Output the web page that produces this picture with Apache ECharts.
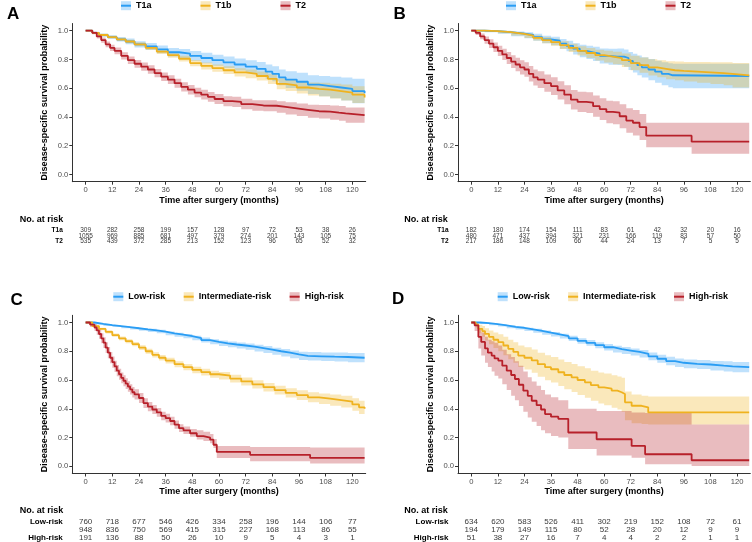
<!DOCTYPE html>
<html><head><meta charset="utf-8">
<script src="https://cdn.jsdelivr.net/npm/echarts@6/dist/echarts.min.js"></script>
<style>html,body{margin:0;padding:0;background:#fff}#c{width:752px;height:542px}</style>
</head><body><div id="c"></div>
<script>
// ---------- data ----------
const X_TICKS = [0,12,24,36,48,60,72,84,96,108,120];
const Y_TICKS = [0,0.2,0.4,0.6,0.8,1.0];
const GROUPS_T = ['T1a','T1b','T2'];
const GROUPS_R = ['Low-risk','Intermediate-risk','High-risk'];

const RISK_A_T1a = [309,282,258,199,157,128,97,72,53,38,26];
const RISK_A_T1b = [1055,969,885,681,497,379,274,201,143,105,75];
const RISK_A_T2  = [535,439,372,285,213,152,123,96,65,52,32];
const RISK_B_T1a = [182,180,174,154,111,83,61,42,32,20,16];
const RISK_B_T1b = [480,471,437,394,321,231,166,119,83,57,50];
const RISK_B_T2  = [217,186,148,109,66,44,24,13,7,5,5];
const RISK_C_Low = [760,718,677,546,426,334,258,196,144,106,77];
const RISK_C_Int = [948,836,750,569,415,315,227,168,113,86,55];
const RISK_C_High= [191,136,88,50,26,10,9,5,4,3,1];
const RISK_D_Low = [634,620,583,526,411,302,219,152,108,72,61];
const RISK_D_Int = [194,179,149,115,80,52,28,20,12,9,9];
const RISK_D_High= [51,38,27,16,7,4,4,2,2,1,1];

// Panel A
const A_T1a_t  = [0,3,6,10,14,18,22,27,32,37,42,47,52,57,62,67,72,77,81,84,87,90,95,100,105,110,115,120,125.5];
const A_T1a_s  = [1,0.985,0.97,0.955,0.94,0.925,0.905,0.89,0.87,0.85,0.84,0.825,0.81,0.795,0.78,0.765,0.75,0.735,0.715,0.70,0.675,0.66,0.645,0.625,0.615,0.605,0.595,0.58,0.565];
const A_T1a_lo = [1,0.978,0.958,0.942,0.924,0.905,0.883,0.865,0.843,0.82,0.808,0.791,0.774,0.757,0.74,0.723,0.706,0.688,0.665,0.648,0.62,0.602,0.583,0.559,0.545,0.53,0.515,0.495,0.475];
const A_T1a_hi = [1,0.992,0.98,0.968,0.956,0.945,0.927,0.915,0.897,0.88,0.872,0.859,0.846,0.833,0.82,0.807,0.794,0.782,0.765,0.752,0.73,0.718,0.707,0.691,0.685,0.68,0.675,0.665,0.655];
const A_T1b_t  = [0,3,6,10,14,18,22,27,32,37,42,47,52,57,62,67,72,77,82,86,90,95,100,105,110,115,120,125.5];
const A_T1b_s  = [1,0.985,0.97,0.955,0.94,0.925,0.905,0.88,0.855,0.83,0.805,0.775,0.755,0.74,0.725,0.71,0.70,0.685,0.665,0.63,0.62,0.605,0.595,0.59,0.58,0.57,0.555,0.535];
const A_T1b_lo = [1,0.979,0.962,0.946,0.929,0.913,0.891,0.865,0.838,0.812,0.785,0.753,0.731,0.715,0.698,0.682,0.67,0.653,0.63,0.593,0.581,0.563,0.55,0.542,0.529,0.515,0.497,0.472];
const A_T1b_hi = [1,0.991,0.978,0.964,0.951,0.937,0.919,0.895,0.872,0.848,0.825,0.797,0.779,0.765,0.752,0.738,0.73,0.717,0.7,0.667,0.659,0.647,0.64,0.638,0.631,0.625,0.613,0.598];
const A_T2_t   = [0,3,5,7,9,11,13,16,19,22,25,28,31,34,37,40,43,46,49,52,55,58,62,66,70,75,80,86,90,95,100,105,110,114,117,125.5];
const A_T2_s   = [1,0.985,0.96,0.935,0.905,0.88,0.86,0.825,0.795,0.77,0.75,0.73,0.705,0.68,0.66,0.635,0.61,0.59,0.57,0.555,0.54,0.525,0.51,0.505,0.49,0.48,0.478,0.47,0.46,0.45,0.44,0.437,0.43,0.425,0.413,0.413];
const A_T2_lo  = [1,0.975,0.945,0.917,0.885,0.858,0.837,0.8,0.769,0.743,0.722,0.701,0.676,0.65,0.629,0.604,0.578,0.557,0.537,0.521,0.506,0.49,0.475,0.469,0.453,0.443,0.44,0.43,0.418,0.407,0.395,0.39,0.38,0.373,0.36,0.358];
const A_T2_hi  = [1,0.995,0.975,0.953,0.925,0.902,0.883,0.85,0.821,0.797,0.778,0.759,0.734,0.71,0.691,0.666,0.642,0.623,0.603,0.589,0.574,0.56,0.545,0.541,0.527,0.517,0.516,0.51,0.502,0.493,0.485,0.484,0.48,0.477,0.466,0.468];

// Panel B
const B_T1a_t  = [0,6,12,18,24,28,32,36,40,43,46,49,52,55,58,62,66,69,71,73,75,77,80,83,86,89,91,125.5];
const B_T1a_s  = [1,0.997,0.99,0.98,0.97,0.955,0.94,0.93,0.91,0.895,0.875,0.86,0.85,0.84,0.825,0.82,0.82,0.81,0.79,0.775,0.76,0.745,0.73,0.715,0.7,0.69,0.685,0.685];
const B_T1a_lo = [1,0.99,0.978,0.962,0.948,0.93,0.912,0.898,0.875,0.857,0.834,0.816,0.803,0.79,0.772,0.764,0.762,0.749,0.727,0.709,0.691,0.674,0.655,0.638,0.62,0.607,0.6,0.595];
const B_T1a_hi = [1,1,1,0.995,0.99,0.978,0.965,0.958,0.942,0.93,0.913,0.902,0.895,0.888,0.877,0.874,0.876,0.869,0.852,0.84,0.828,0.815,0.803,0.791,0.78,0.773,0.77,0.775];
const B_T1b_t  = [0,6,12,18,24,28,32,36,40,44,48,52,56,60,64,68,72,76,80,84,88,92,96,102,108,114,118,125.5];
const B_T1b_s  = [1,0.997,0.99,0.978,0.965,0.95,0.935,0.92,0.9,0.88,0.86,0.845,0.83,0.82,0.81,0.795,0.775,0.76,0.745,0.735,0.725,0.72,0.715,0.71,0.705,0.7,0.69,0.69];
const B_T1b_lo = [1,0.993,0.982,0.966,0.949,0.931,0.913,0.896,0.873,0.851,0.828,0.81,0.792,0.779,0.766,0.748,0.725,0.707,0.689,0.676,0.663,0.655,0.647,0.638,0.63,0.62,0.605,0.6];
const B_T1b_hi = [1,1,0.998,0.99,0.981,0.969,0.957,0.944,0.927,0.909,0.892,0.88,0.868,0.861,0.854,0.842,0.825,0.813,0.801,0.794,0.787,0.785,0.783,0.782,0.78,0.78,0.775,0.78];
const B_T2_t   = [0,2,4,6,8,10,12,14,16,18,20,22,24,26,28,30,33,36,39,42,45,48,52,55,58,61,64,67,70,73,76,79,99.5,125.5];
const B_T2_s   = [1,0.985,0.96,0.935,0.91,0.885,0.86,0.835,0.81,0.785,0.765,0.745,0.73,0.70,0.675,0.66,0.635,0.615,0.585,0.555,0.52,0.505,0.5,0.475,0.455,0.435,0.43,0.405,0.375,0.36,0.33,0.27,0.228,0.228];
const B_T2_lo  = [1,0.97,0.94,0.91,0.88,0.852,0.824,0.796,0.768,0.741,0.718,0.696,0.679,0.646,0.619,0.602,0.575,0.553,0.521,0.489,0.452,0.435,0.428,0.401,0.379,0.357,0.35,0.322,0.29,0.272,0.24,0.19,0.145,0.145];
const B_T2_hi  = [1,1,0.98,0.96,0.94,0.918,0.896,0.874,0.852,0.829,0.812,0.794,0.781,0.754,0.731,0.718,0.695,0.677,0.649,0.621,0.588,0.575,0.572,0.549,0.531,0.513,0.51,0.488,0.46,0.448,0.42,0.36,0.36,0.36];

// Panel C
const C_Low_t  = [0,4,8,12,16,20,24,28,32,36,40,44,48,52,56,60,64,68,72,76,80,84,88,92,96,100,106,112,118,125.5];
const C_Low_s  = [1,0.99,0.982,0.975,0.968,0.96,0.952,0.945,0.937,0.925,0.915,0.905,0.892,0.878,0.866,0.855,0.847,0.84,0.832,0.822,0.812,0.8,0.79,0.778,0.768,0.765,0.762,0.76,0.755,0.753];
const C_Low_lo = [1,0.986,0.976,0.968,0.96,0.951,0.942,0.934,0.925,0.912,0.901,0.89,0.876,0.861,0.848,0.836,0.827,0.819,0.81,0.799,0.788,0.775,0.764,0.751,0.74,0.736,0.732,0.729,0.723,0.72];
const C_Low_hi = [1,0.994,0.988,0.982,0.976,0.969,0.962,0.956,0.949,0.938,0.929,0.92,0.908,0.895,0.884,0.874,0.867,0.861,0.854,0.845,0.836,0.825,0.816,0.805,0.796,0.794,0.792,0.791,0.787,0.786];
const C_Int_t  = [0,3,6,9,12,15,18,21,24,27,30,33,36,40,44,48,52,56,60,65,70,75,80,85,90,95,100,105,110,115,120,123,125.5];
const C_Int_s  = [1,0.975,0.955,0.935,0.912,0.89,0.87,0.85,0.825,0.8,0.775,0.755,0.735,0.71,0.69,0.67,0.655,0.64,0.63,0.61,0.59,0.57,0.55,0.53,0.51,0.495,0.48,0.47,0.46,0.45,0.43,0.41,0.4];
const C_Int_lo = [1,0.968,0.946,0.924,0.9,0.877,0.856,0.835,0.809,0.783,0.757,0.736,0.715,0.689,0.668,0.647,0.631,0.615,0.604,0.583,0.562,0.541,0.52,0.499,0.478,0.461,0.445,0.433,0.421,0.409,0.386,0.364,0.352];
const C_Int_hi = [1,0.982,0.964,0.946,0.924,0.903,0.884,0.865,0.841,0.817,0.793,0.774,0.755,0.731,0.712,0.693,0.679,0.665,0.656,0.637,0.618,0.599,0.58,0.561,0.542,0.529,0.515,0.507,0.499,0.491,0.474,0.456,0.448];
const C_High_t = [0,2,4,5,6,7,8,9,10,11,12,13,14,15,16,17,18,19,20,21,22,24,26,28,30,32,34,36,38,40,42,44,47,50,53,56,57.5,59,74,101,125.5];
const C_High_s = [1,0.985,0.965,0.945,0.92,0.89,0.86,0.825,0.79,0.755,0.725,0.695,0.665,0.64,0.615,0.595,0.575,0.555,0.535,0.515,0.5,0.475,0.44,0.415,0.395,0.375,0.35,0.335,0.315,0.29,0.265,0.25,0.23,0.21,0.2,0.185,0.15,0.1,0.08,0.058,0.058];
const C_High_lo= [1,0.968,0.94,0.915,0.887,0.855,0.823,0.787,0.751,0.716,0.686,0.656,0.626,0.601,0.577,0.557,0.537,0.518,0.499,0.479,0.465,0.44,0.406,0.382,0.363,0.344,0.32,0.305,0.286,0.262,0.238,0.224,0.205,0.186,0.176,0.161,0.127,0.058,0.035,0.02,0.02];
const C_High_hi= [1,1,0.99,0.975,0.953,0.925,0.897,0.863,0.829,0.794,0.764,0.734,0.704,0.679,0.653,0.633,0.613,0.592,0.571,0.551,0.535,0.51,0.474,0.448,0.427,0.406,0.38,0.365,0.344,0.318,0.292,0.276,0.26,0.25,0.24,0.225,0.19,0.142,0.135,0.13,0.13];

// Panel D
const D_Low_t  = [0,4,8,12,16,20,24,28,32,36,40,44,48,52,56,60,64,68,72,76,80,84,88,92,96,102,108,114,118,125.5];
const D_Low_s  = [1,0.995,0.988,0.98,0.97,0.962,0.952,0.942,0.93,0.918,0.905,0.89,0.872,0.858,0.842,0.828,0.815,0.805,0.795,0.782,0.765,0.748,0.732,0.72,0.712,0.708,0.7,0.695,0.69,0.69];
const D_Low_lo = [1,0.99,0.981,0.972,0.96,0.951,0.94,0.928,0.915,0.902,0.888,0.872,0.853,0.838,0.821,0.806,0.792,0.781,0.77,0.756,0.738,0.72,0.703,0.69,0.681,0.676,0.667,0.66,0.654,0.652];
const D_Low_hi = [1,1,0.995,0.988,0.98,0.973,0.964,0.956,0.945,0.934,0.922,0.908,0.891,0.878,0.863,0.85,0.838,0.829,0.82,0.808,0.792,0.776,0.761,0.75,0.743,0.74,0.733,0.73,0.726,0.728];
const D_Int_t  = [0,2,3.2,5,6.2,8,10,12.2,14.5,16.7,19,21.2,24,27.3,30,33.3,36,39.3,42,45.3,48,51.3,54,57.4,60,63.4,66,67.9,69.4,72.4,76.9,79.9,125.5];
const D_Int_s  = [1,0.985,0.956,0.94,0.921,0.9,0.88,0.863,0.84,0.817,0.795,0.77,0.755,0.736,0.71,0.689,0.675,0.654,0.635,0.619,0.6,0.584,0.565,0.549,0.54,0.526,0.515,0.503,0.445,0.421,0.41,0.375,0.375];
const D_Int_lo = [1,0.965,0.925,0.9,0.875,0.848,0.823,0.8,0.772,0.745,0.72,0.691,0.673,0.651,0.622,0.598,0.582,0.558,0.536,0.517,0.495,0.476,0.455,0.436,0.425,0.408,0.395,0.38,0.32,0.3,0.295,0.29,0.29];
const D_Int_hi = [1,1,0.985,0.975,0.96,0.945,0.93,0.918,0.9,0.88,0.862,0.84,0.828,0.812,0.79,0.772,0.76,0.742,0.726,0.712,0.695,0.682,0.665,0.652,0.645,0.634,0.625,0.615,0.52,0.5,0.49,0.485,0.485];
const D_High_t = [0,1.5,3.2,4.5,6.2,7.5,9.2,10.5,12.2,14,16,18,19.7,21.5,23.5,25.5,27.3,29.5,31.5,33.3,36,39.3,43.8,56.6,72.4,78.5,99.5,125.5];
const D_High_s = [1,0.98,0.9,0.865,0.82,0.79,0.77,0.75,0.735,0.7,0.665,0.635,0.607,0.567,0.526,0.49,0.456,0.425,0.395,0.363,0.345,0.33,0.235,0.188,0.142,0.084,0.042,0.042];
const D_High_lo= [1,0.94,0.82,0.77,0.72,0.69,0.66,0.63,0.61,0.57,0.53,0.49,0.46,0.42,0.38,0.34,0.31,0.28,0.25,0.23,0.21,0.2,0.12,0.075,0.06,0.015,0.003,0.003];
const D_High_hi= [1,1,0.96,0.93,0.9,0.88,0.87,0.86,0.84,0.81,0.78,0.76,0.73,0.7,0.66,0.62,0.59,0.56,0.53,0.5,0.48,0.46,0.4,0.385,0.375,0.37,0.29,0.29];

// ---------- styling ----------
const FF = "'Liberation Sans', Arial, Helvetica, sans-serif";
const COLORS = ['#2A9DF4', '#EFB21F', '#B7202A'];
const FILLS = ['rgba(42,157,244,0.3)', 'rgba(239,178,31,0.3)', 'rgba(183,32,42,0.3)'];
const AX = '#333333';

const PANELS = [
  { letter:'A', groups:GROUPS_T,
    curves:[[A_T1a_t,A_T1a_s,A_T1a_lo,A_T1a_hi],[A_T1b_t,A_T1b_s,A_T1b_lo,A_T1b_hi],[A_T2_t,A_T2_s,A_T2_lo,A_T2_hi]],
    risk:[RISK_A_T1a,RISK_A_T1b,RISK_A_T2],
    plot:{left:72.3, top:23.5, width:293.4, height:158.2},
    tbl:{top:228, height:16, fs:6.5},
    legend:{left:121, top:1.2, gap:49},
    letterPos:{left:7, top:5.5},
    nar:{right:752-63.3, top:215}},
  { letter:'B', groups:GROUPS_T,
    curves:[[B_T1a_t,B_T1a_s,B_T1a_lo,B_T1a_hi],[B_T1b_t,B_T1b_s,B_T1b_lo,B_T1b_hi],[B_T2_t,B_T2_s,B_T2_lo,B_T2_hi]],
    risk:[RISK_B_T1a,RISK_B_T1b,RISK_B_T2],
    plot:{left:458, top:23.5, width:292.3, height:158.2},
    tbl:{top:228, height:16, fs:6.5},
    legend:{left:506, top:1.2, gap:49},
    letterPos:{left:393.5, top:5.5},
    nar:{right:752-447.7, top:215}},
  { letter:'C', groups:GROUPS_R,
    curves:[[C_Low_t,C_Low_s,C_Low_lo,C_Low_hi],[C_Int_t,C_Int_s,C_Int_lo,C_Int_hi],[C_High_t,C_High_s,C_High_lo,C_High_hi]],
    risk:[RISK_C_Low,RISK_C_Int,RISK_C_High],
    plot:{left:72.3, top:315.3, width:293.4, height:158.2},
    tbl:{top:517.7, height:24, fs:8},
    legend:{left:113.3, top:292.2, gap:18.4},
    letterPos:{left:10.5, top:292},
    nar:{right:752-63.3, top:506.2}},
  { letter:'D', groups:GROUPS_R,
    curves:[[D_Low_t,D_Low_s,D_Low_lo,D_Low_hi],[D_Int_t,D_Int_s,D_Int_lo,D_Int_hi],[D_High_t,D_High_s,D_High_lo,D_High_hi]],
    risk:[RISK_D_Low,RISK_D_Int,RISK_D_High],
    plot:{left:458, top:315.3, width:292.3, height:158.2},
    tbl:{top:517.7, height:24, fs:8},
    legend:{left:497.7, top:292.2, gap:18.4},
    letterPos:{left:392, top:290.5},
    nar:{right:752-447.7, top:506.2}}
];

const opt = { animation:false, backgroundColor:'#ffffff', grid:[], xAxis:[], yAxis:[], series:[], legend:[], title:[] };

function bandRenderer(t, lo, hi, fill) {
  return function(params, api) {
    if (params.dataIndex !== 0) return null;
    const n = t.length, pts = [];
    for (let i = 0; i < n; i++) {
      pts.push(api.coord([t[i], hi[i]]));
      if (i < n - 1) pts.push(api.coord([t[i + 1], hi[i]]));
    }
    for (let i = n - 1; i >= 0; i--) {
      pts.push(api.coord([t[i], lo[i]]));
      if (i > 0) pts.push(api.coord([t[i], lo[i - 1]]));
    }
    return { type:'polygon', shape:{ points:pts }, style:{ fill:fill } };
  };
}

PANELS.forEach(function(p) {
  const gP = opt.grid.length;
  opt.grid.push({ left:p.plot.left, top:p.plot.top, width:p.plot.width, height:p.plot.height });
  const gT = opt.grid.length;
  opt.grid.push({ left:p.plot.left, top:p.tbl.top, width:p.plot.width, height:p.tbl.height });

  const xP = opt.xAxis.length;
  opt.xAxis.push({
    type:'value', gridIndex:gP, min:-6, max:126,
    name:'Time after surgery (months)', nameLocation:'middle', nameGap:14,
    nameTextStyle:{ fontFamily:FF, fontSize:9, fontWeight:'bold', color:'#000' },
    axisLine:{ show:true, onZero:false, lineStyle:{ color:AX, width:1 } },
    axisTick:{ show:true, customValues:X_TICKS, length:3, lineStyle:{ color:AX } },
    axisLabel:{ customValues:X_TICKS, margin:4, fontSize:7.6, color:'#4d4d4d', fontFamily:FF },
    splitLine:{ show:false }
  });
  const xT = opt.xAxis.length;
  opt.xAxis.push({ type:'value', gridIndex:gT, min:-6, max:126, show:false });

  const yP = opt.yAxis.length;
  opt.yAxis.push({
    type:'value', gridIndex:gP, min:-0.05, max:1.05,
    name:'Disease-specific survival probability', nameLocation:'middle', nameGap:23, nameRotate:90,
    nameTextStyle:{ fontFamily:FF, fontSize:9, fontWeight:'bold', color:'#000' },
    axisLine:{ show:true, onZero:false, lineStyle:{ color:AX, width:1 } },
    axisTick:{ show:true, customValues:Y_TICKS, length:3, lineStyle:{ color:AX } },
    axisLabel:{ customValues:Y_TICKS, margin:4, fontSize:7.6, color:'#4d4d4d', fontFamily:FF,
                formatter:function(v){ return Number(v).toFixed(1); } },
    splitLine:{ show:false }
  });
  const yT = opt.yAxis.length;
  opt.yAxis.push({
    type:'category', gridIndex:gT, data:p.groups, inverse:true,
    axisLine:{ show:false }, axisTick:{ show:false }, splitLine:{ show:false },
    axisLabel:{ margin:9.5, fontSize:p.tbl.fs, fontWeight:'bold', color:'#000', fontFamily:FF }
  });

  p.groups.forEach(function(g, k) {
    const c = p.curves[k];
    const t = c[0], lo = c[2], hi = c[3];
    opt.series.push({
      type:'custom', name:g + ' band', xAxisIndex:xP, yAxisIndex:yP,
      data:t.map(function(x, i){ return [x, lo[i], hi[i]]; }),
      encode:{ x:0, y:[1,2] },
      itemStyle:{ color:FILLS[k] }, z:2, silent:true,
      renderItem:bandRenderer(t, lo, hi, FILLS[k])
    });
  });
  p.groups.forEach(function(g, k) {
    const c = p.curves[k];
    const t = c[0], s = c[1];
    opt.series.push({
      type:'line', name:g, xAxisIndex:xP, yAxisIndex:yP,
      data:t.map(function(x, i){ return [x, s[i]]; }),
      step:'end', symbol:'none', showSymbol:false,
      lineStyle:{ color:COLORS[k], width:1.8 }, itemStyle:{ color:COLORS[k] }, z:3, silent:true
    });
    opt.series.push({
      type:'scatter', name:g + ' risk', xAxisIndex:xT, yAxisIndex:yT,
      data:X_TICKS.map(function(x, j){ return [x, k, p.risk[k][j]]; }),
      symbolSize:1, itemStyle:{ color:'rgba(0,0,0,0)' }, silent:true,
      label:{ show:true, position:'inside', formatter:function(q){ return q.value[2]; },
              fontSize:p.tbl.fs, color:'#000', fontFamily:FF }
    });
  });

  // legend keys: light filled square (band) with a coloured bar (line) through its middle
  opt.legend.push({
    left:p.legend.left, top:p.legend.top, padding:0, itemWidth:10, itemHeight:9,
    itemGap:p.legend.gap, selectedMode:false, orient:'horizontal', icon:'rect',
    data:p.groups.map(function(g){ return g + ' band'; }),
    formatter:function(n){ return n.replace(' band',''); },
    textStyle:{ fontFamily:FF, fontSize:9, fontWeight:'bold', color:'rgba(0,0,0,0)' }, z:4
  });
  opt.legend.push({
    left:p.legend.left, top:p.legend.top, padding:0, itemWidth:10, itemHeight:2,
    itemGap:p.legend.gap, selectedMode:false, orient:'horizontal', icon:'rect',
    data:p.groups.slice(),
    textStyle:{ fontFamily:FF, fontSize:9, fontWeight:'bold', color:'#000' }, z:5
  });

  opt.title.push({ text:p.letter, left:p.letterPos.left, top:p.letterPos.top, padding:0,
                   textStyle:{ fontFamily:FF, fontSize:17, fontWeight:'bold', color:'#000' } });
  opt.title.push({ text:'No. at risk', right:p.nar.right, top:p.nar.top, padding:0,
                   textStyle:{ fontFamily:FF, fontSize:9, fontWeight:'bold', color:'#000' } });
});

const chart = echarts.init(document.getElementById('c'), null, { renderer:'canvas' });
chart.setOption(opt);
</script>
</body></html>
